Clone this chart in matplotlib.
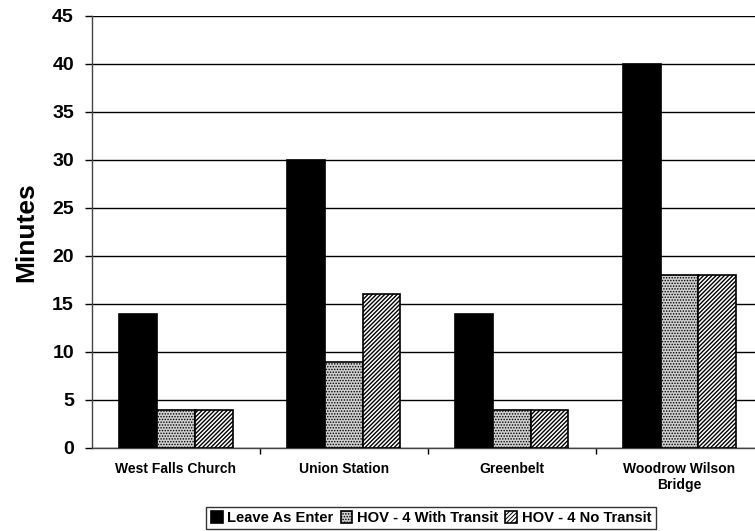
import matplotlib
matplotlib.use("Agg")
import matplotlib.pyplot as plt
import numpy as np

categories = ["West Falls Church", "Union Station", "Greenbelt", "Woodrow Wilson\nBridge"]
leave_as_enter = [14, 30, 14, 40]
hov4_with_transit = [4, 9, 4, 18]
hov4_no_transit = [4, 16, 4, 18]
series_names = ["Leave As Enter", "HOV - 4 With Transit", "HOV - 4 No Transit"]
yticks = [0, 5, 10, 15, 20, 25, 30, 35, 40, 45]

plt.rcParams['font.family'] = ['Liberation Sans', 'DejaVu Sans']

fig = plt.figure(figsize=(7.55, 5.31), dpi=100)
ax = fig.add_axes([92/755, 1-448/531, 1-92/755, (448-16)/531])

x = np.arange(len(categories))
w = 0.225
b1 = ax.bar(x - w, leave_as_enter, w, color='black', edgecolor='black', linewidth=1.2,
            label=series_names[0], zorder=3)
with plt.rc_context({'hatch.linewidth': 0.7}):
    b2 = ax.bar(x, hov4_with_transit, w, color='#cfcfcf', edgecolor='black', hatch='......',
                linewidth=1.2, label=series_names[1], zorder=3)
with plt.rc_context({'hatch.linewidth': 1.0}):
    b3 = ax.bar(x + w, hov4_no_transit, w, color='white', edgecolor='black', hatch='////////',
                linewidth=1.2, label=series_names[2], zorder=3)

ax.set_ylim(0, 45)
ax.set_xlim(-0.5, 3.45)
ax.set_yticks(yticks)
ax.set_yticklabels([str(v) for v in yticks], fontsize=14, fontweight='bold')
ax.yaxis.grid(True, color='black', linewidth=1.0, zorder=0)
ax.set_axisbelow(True)

ax.set_xticks(x)
ax.set_xticklabels(categories, fontsize=10, fontweight='bold')
ax.tick_params(axis='x', length=0, pad=10)
ax.set_xticks([0.5, 1.5, 2.5], minor=True)
ax.tick_params(axis='x', which='minor', length=4, direction='out', width=1)
ax.tick_params(axis='y', length=5, width=1, direction='out', pad=8)

for s in ['top', 'right']:
    ax.spines[s].set_visible(False)
for s in ['left', 'bottom']:
    ax.spines[s].set_linewidth(1.0)
    ax.spines[s].set_color('#444444')

ax.set_ylabel("Minutes", fontsize=19, fontweight='bold', labelpad=10)

with plt.rc_context({'hatch.linewidth': 0.7}):
    leg = fig.legend(loc='center', bbox_to_anchor=(431/755, 1-518/531), ncol=3,
                     frameon=True, fancybox=False, edgecolor='black',
                     prop={'weight': 'bold', 'size': 10.6},
                     handlelength=0.8, handleheight=0.8, handletextpad=0.3,
                     columnspacing=0.5, borderpad=0.3, borderaxespad=0)
leg.get_frame().set_linewidth(1.0)

fig.savefig("out.png", dpi=100)
